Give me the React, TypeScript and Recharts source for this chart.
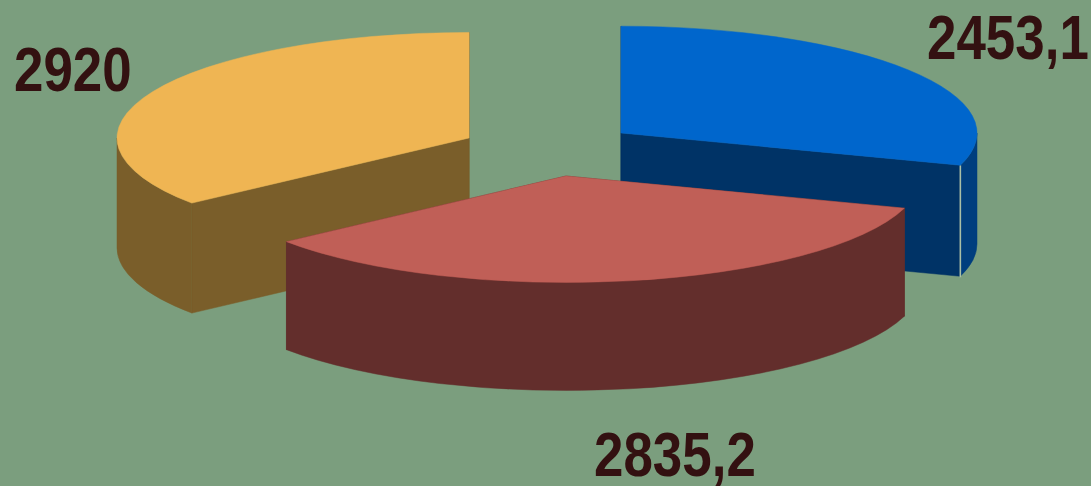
import { PieChart, Pie } from "recharts";

const categories = ["blue", "yellow", "red"];
const values = [2453.1, 2920, 2835.2];

const TOP_COLORS: Record<string, string> = { blue: "#0066CC", yellow: "#EFB553", red: "#C05F57" };
const WALL_COLORS: Record<string, string> = { blue: "#003366", yellow: "#7A5E2A", red: "#632E2C" };
const OUTER_COLORS: Record<string, string> = { blue: "#003E7E", yellow: "#7A5E2A", red: "#632E2C" };

// how far each slice is pulled out of the pie
const EXPLODE: Record<string, { dx: number; dy: number; dr: number; depth: number }> = {
  blue: { dx: 76, dy: -17, dr: 2, depth: 111 },
  yellow: { dx: -76, dy: -12, dr: -2, depth: 110 },
  red: { dx: 21, dy: 26, dr: 1, depth: 108 },
};

const LABEL_POS: Record<string, { x: number; y: number }> = {
  blue: { x: 927, y: 59 },
  yellow: { x: 14, y: 91 },
  red: { x: 594, y: 476 },
};

const TILT = 0.3;

const data = categories.map((category, i) => ({ category, value: values[i] }));

function Slice3D(props: any) {
  const { cx, cy, outerRadius, category } = props;
  let start = props.startAngle;
  let end = props.endAngle;
  if (start < 0) {
    start += 360;
    end += 360;
  }
  const { dx, dy, dr, depth } = EXPLODE[category];
  const ox = cx + dx;
  const oy = cy + dy;
  const rx = outerRadius + dr;
  const ry = rx * TILT;
  const pt = (deg: number, drop = 0) => {
    const a = (deg * Math.PI) / 180;
    return `${ox + rx * Math.cos(a)} ${oy - ry * Math.sin(a) + drop}`;
  };
  const radialWall = (deg: number) =>
    `M${ox} ${oy} L${pt(deg)} L${pt(deg, depth)} L${ox} ${oy + depth} Z`;

  // only the part of the rim on the near side of the pie shows
  const lo = Math.max(start, 180);
  const hi = Math.min(end, 360);
  const large = end - start > 180 ? 1 : 0;
  const wall = WALL_COLORS[category];
  const outer = OUTER_COLORS[category];
  const top = TOP_COLORS[category];

  return (
    <g>
      <path d={radialWall(start)} fill={wall} stroke={wall} strokeWidth={0.5} />
      <path d={radialWall(end)} fill={wall} stroke={wall} strokeWidth={0.5} />
      {hi > lo && (
        <path
          d={`M${pt(lo)} A${rx} ${ry} 0 0 0 ${pt(hi)} L${pt(hi, depth)} A${rx} ${ry} 0 0 1 ${pt(lo, depth)} Z`}
          fill={outer}
          stroke={outer}
          strokeWidth={0.5}
        />
      )}
      {category === "blue" && (
        <path d={`M${pt(start)} L${pt(start, depth + 1)}`} stroke="#A9BFA6" strokeWidth={1.6} />
      )}
      <path
        d={`M${ox} ${oy} L${pt(start)} A${rx} ${ry} 0 ${large} 0 ${pt(end)} Z`}
        fill={top}
        stroke={top}
        strokeWidth={0.5}
      />
    </g>
  );
}

function renderLabel(props: any) {
  const pos = LABEL_POS[props.category];
  return (
    <text
      transform={`translate(${pos.x} ${pos.y}) scale(0.84 1)`}
      x={0}
      y={0}
      textAnchor="start"
      fill="#331111"
      fontFamily="'Liberation Sans', sans-serif"
      fontWeight="bold"
      fontSize={63}
    >
      {String(props.value).replace(".", ",")}
    </text>
  );
}

export default function App() {
  return (
    <div
      style={{
        position: "fixed",
        left: 0,
        top: 0,
        width: 1091,
        height: 486,
        background: "#7B9E7E",
        overflow: "hidden",
      }}
    >
      <PieChart width={1091} height={486} margin={{ top: 0, right: 0, bottom: 0, left: 0 }}>
        <Pie
          data={data}
          dataKey="value"
          nameKey="category"
          cx={545}
          cy={150}
          innerRadius={0}
          outerRadius={354}
          startAngle={-17.6}
          endAngle={342.4}
          stroke="none"
          shape={Slice3D}
          label={renderLabel}
          labelLine={false}
          isAnimationActive={false}
        />
      </PieChart>
    </div>
  );
}
